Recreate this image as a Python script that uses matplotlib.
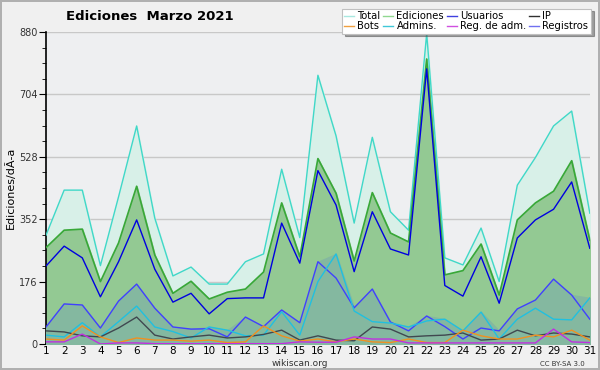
import matplotlib.pyplot as plt
import numpy as np

days = list(range(1, 32))
total = [307, 434, 434, 221, 415, 615, 355, 192, 217, 169, 169, 232, 254, 493, 300, 758,
         587, 341, 583, 373, 321, 875, 243, 223, 327, 176, 448, 526, 615, 657, 369]
ediciones = [272, 321, 324, 176, 285, 445, 251, 143, 177, 127, 146, 155, 203, 398, 246, 523,
             425, 234, 427, 313, 288, 804, 195, 207, 282, 138, 350, 398, 431, 517, 293]
usuarios = [220, 276, 243, 133, 232, 350, 211, 118, 143, 85, 128, 130, 130, 341, 228, 489,
            392, 204, 373, 268, 251, 776, 165, 135, 246, 115, 299, 350, 380, 457, 270]
registros = [48, 113, 110, 45, 121, 169, 101, 48, 42, 43, 20, 76, 49, 96, 60, 232,
             186, 102, 155, 62, 37, 79, 49, 14, 45, 37, 99, 124, 183, 138, 70]
admins = [25, 20, 60, 20, 63, 107, 48, 35, 17, 48, 39, 23, 25, 91, 25, 176,
          254, 93, 63, 59, 48, 65, 70, 37, 90, 14, 70, 101, 70, 68, 130]
ip = [37, 34, 23, 20, 45, 76, 25, 14, 20, 25, 17, 20, 27, 39, 11, 23,
      11, 9, 48, 42, 20, 23, 25, 31, 11, 14, 39, 23, 31, 28, 20]
bots = [14, 11, 51, 20, 4, 17, 11, 11, 8, 11, 4, 6, 51, 23, 8, 14,
        6, 14, 6, 4, 14, 4, 4, 39, 23, 14, 14, 25, 20, 39, 11]
reg_adm = [6, 6, 28, 0, 3, 3, 1, 1, 1, 1, 1, 1, 1, 1, 6, 5,
           5, 20, 14, 14, 3, 3, 3, 3, 3, 3, 3, 3, 42, 6, 4]

x = np.array(days)
fig = plt.figure(figsize=(6, 3.7), dpi=100, facecolor='#f0f0f0',
                 edgecolor='#b0b0b0', linewidth=1.5)
ax = fig.add_axes([0.0767, 0.0703, 0.9063, 0.8432])
ax.set_facecolor('#eeeff1')

# filled areas
ax.fill_between(x, 0, total, color='#d8f0e8', zorder=1)
ax.fill_between(x, 0, ediciones, color='#93c993', zorder=2)
ax.fill_between(x, 0, np.maximum(registros, admins), color='#84b8a0', zorder=3)

ax.plot(x, total, color='#40d8c8', lw=1, zorder=5)
ax.plot(x, ediciones, color='#38a838', lw=1.2, zorder=5)
ax.plot(x, usuarios, color='#0000e0', lw=1, zorder=5)
ax.plot(x, registros, color='#4040ff', lw=1, zorder=5)
ax.plot(x, admins, color='#20c0e0', lw=1, zorder=5)
ax.plot(x, ip, color='#404850', lw=1, zorder=5)
ax.plot(x, bots, color='#f09020', lw=1, zorder=5)
ax.plot(x, reg_adm, color='#c030e0', lw=1, zorder=5)

ax.set_xlim(1, 31)
ax.set_ylim(0, 880)
ax.set_xticks(days)
ax.set_yticks([0, 176, 352, 528, 704, 880])
ax.set_yticks(np.arange(0, 881, 44), minor=True)
ax.grid(axis='y', color='#c8c8c8', lw=1, zorder=0)
ax.set_axisbelow(True)
for s in ['top', 'right']:
    ax.spines[s].set_visible(False)
ax.spines['left'].set_linewidth(1.2)
ax.spines['bottom'].set_linewidth(1.2)
ax.tick_params(axis='y', which='major', length=5, labelsize=7, pad=1, labelcolor='#333333')
ax.tick_params(axis='y', which='minor', length=3)
ax.tick_params(axis='x', length=0, labelsize=7.5, pad=1.5)
ax.set_ylabel('Ediciones/dÃ\u00ada', fontsize=8, labelpad=2)

fig.text(0.25, 0.955, 'Ediciones  Marzo 2021', ha='center', va='center',
         fontsize=9.5, fontweight='bold')
fig.text(0.5, 0.017, 'wikiscan.org', ha='center', va='center', fontsize=6.5, color='#333333')
fig.text(0.975, 0.017, 'CC BY-SA 3.0', ha='right', va='center', fontsize=5, color='#333333')

labels = ['Total', 'Bots', 'Ediciones', 'Admins.', 'Usuarios', 'Reg. de adm.', 'IP', 'Registros']
colors = ['#a8e8e0', '#f0a040', '#90d890', '#40c8d8', '#4040e0', '#d050e0', '#303030', '#7070f0']
handles = [plt.Line2D([], [], color=c, lw=1) for c in colors]
leg = fig.legend(handles, labels, ncol=4, loc='upper right', bbox_to_anchor=(0.988, 0.982),
                 fontsize=7.2, frameon=True, fancybox=False, shadow=True, handlelength=1.0,
                 handletextpad=0.3, columnspacing=0.3, labelspacing=0.0, borderpad=0.25,
                 borderaxespad=0.2)
leg.get_frame().set_edgecolor('#c0c0c0')
leg.get_frame().set_linewidth(0.8)
leg.set_zorder(10)

plt.savefig('out.png', dpi=100, facecolor=fig.get_facecolor(), edgecolor=fig.get_edgecolor())
plt.close()
